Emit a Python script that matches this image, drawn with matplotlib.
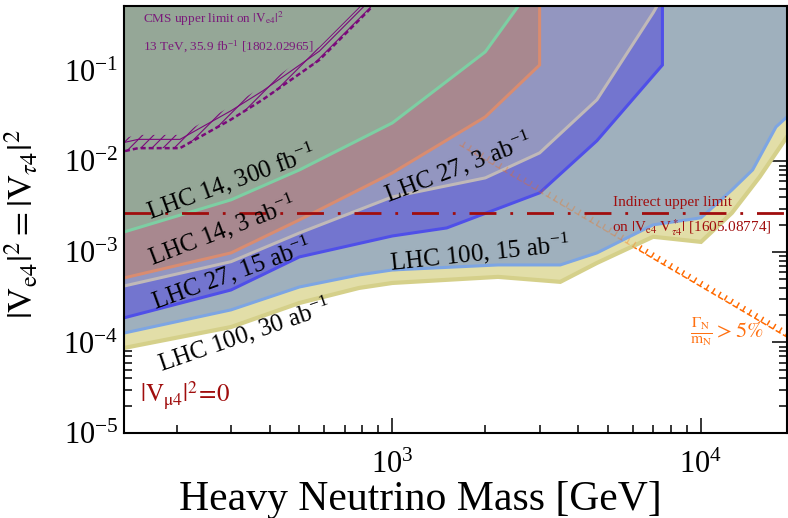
import numpy as np
import matplotlib
matplotlib.use("Agg")
import matplotlib.pyplot as plt
from matplotlib import patheffects
from matplotlib.ticker import LogLocator, NullFormatter

plt.rcParams['font.family'] = 'serif'
plt.rcParams['font.serif'] = ['Liberation Serif', 'DejaVu Serif']
plt.rcParams['mathtext.fontset'] = 'stix'

# --- sensitivity curves (mass in GeV, |V|^2) ---
lhc14_300_m = [135, 300, 500, 1000, 2000, 3000]
lhc14_300_v = [1.66e-3, 3.76e-3, 8.05e-3, 2.66e-2, 0.162, 1.1]

lhc14_3_m = [135, 300, 500, 1000, 2000, 3000, 3000]
lhc14_3_v = [5.16e-4, 9.75e-4, 2.26e-3, 7.46e-3, 3.1e-2, 0.116, 2.0]

lhc27_3_m = [135, 300, 500, 1000, 2000, 3000, 4600, 7000, 7500]
lhc27_3_v = [4.2e-4, 7.8e-4, 1.62e-3, 4.05e-3, 6.57e-3, 1.24e-2, 4.79e-2, 0.438, 0.66]

lhc27_15_m = [135, 300, 500, 1000, 1500, 3000, 4600, 7500, 7500]
lhc27_15_v = [1.87e-4, 3.8e-4, 8.81e-4, 1.5e-3, 1.84e-3, 4.49e-3, 1.69e-2, 0.116, 2.0]

lhc100_15_m = [135, 300, 500, 780, 1000, 2200, 3500, 4600, 7000, 10000, 12600, 14700, 17500, 19000, 21000]
lhc100_15_v = [1.27e-4, 2.29e-4, 4.1e-4, 5.57e-4, 6.32e-4, 7.18e-4, 7.18e-4, 9.75e-4, 1.99e-3,
               2.38e-3, 4.84e-3, 8.05e-3, 2.4e-2, 3.1e-2, 4.5e-2]

lhc100_30_m = [135, 300, 500, 780, 1000, 2200, 3500, 4600, 7000, 10000, 12600, 15500, 19000, 21000]
lhc100_30_v = [8.69e-5, 1.48e-4, 2.73e-4, 4.0e-4, 4.54e-4, 5.3e-4, 4.67e-4, 7.55e-4, 1.47e-3,
               1.29e-3, 2.7e-3, 6.75e-3, 1.87e-2, 2.8e-2]

# CMS 13 TeV limit
cms_m = [136, 150, 205, 300, 380, 580, 830, 950]
cms_v = [1.3e-2, 1.4e-2, 1.4e-2, 2.9e-2, 4.8e-2, 0.132, 0.45, 0.75]

# indirect limit and width constraint
indirect_v = 2.7e-3
gamma_m = [1650, 21000]
gamma_v = [1.52e-2, 9.4e-5]

# (curve, fill colour, line colour, line width) from widest band to narrowest
bands = [
    (lhc100_30_m, lhc100_30_v, '#e2dea8', '#d5d08a', 3.0),
    (lhc100_15_m, lhc100_15_v, '#9fb0bd', '#7da5e3', 2.2),
    (lhc27_15_m, lhc27_15_v, '#7375cf', '#4f4fe8', 2.2),
    (lhc27_3_m, lhc27_3_v, '#9396c0', '#c0b9b8', 2.2),
    (lhc14_3_m, lhc14_3_v, '#a8888f', '#d98c70', 2.2),
    (lhc14_300_m, lhc14_300_v, '#95a797', '#7dcfa3', 2.2),
]

fig = plt.figure(figsize=(7.88, 5.18), dpi=100)
ax = fig.add_axes([124/788, 85/518, 663/788, 427/518])

xmin, xmax = 135, 19000
ymin, ymax = 1e-5, 0.52
top = 10.0

# orange width line drawn below the fills
ticked = [patheffects.withTickedStroke(angle=90, spacing=5, length=1.1)]
ax.plot(gamma_m, gamma_v, color='#ff6a00', lw=1.0, ls=(0, (4, 2)),
        path_effects=ticked, zorder=1)

z = 2
for m, v, fc, lc, lw in bands:
    px = list(m) + [m[-1], m[0]]
    py = list(v) + [top, top]
    ax.fill(px, py, color=fc, lw=0, zorder=z)
    ax.plot(m, v, color=lc, lw=lw, zorder=z + 0.5, solid_joinstyle='miter')
    z += 1

# faded copy of the width line over the shaded regions
ax.plot(gamma_m, gamma_v, color='#ff6a00', lw=1.0, ls=(0, (4, 2)),
        path_effects=ticked, alpha=0.3, zorder=20)

# indirect limit
ax.axhline(indirect_v, color='#a00d0d', lw=2.0, dashes=[9.7, 5, 1, 5], zorder=21)

# CMS limit with hatching
cms_v = np.array(cms_v)
plt.rcParams['hatch.linewidth'] = 0.8
ax.fill_between(cms_m, cms_v, cms_v * 1.4, facecolor='none', edgecolor='#7a0a7a',
                hatch='///', lw=0, zorder=22)
ax.plot(cms_m, cms_v * 1.25, color='#7a0a7a', lw=0.8, zorder=23)
ax.plot(cms_m, cms_v, color='#7a0a7a', lw=1.8, ls=(0, (2, 1.2)), zorder=23)

ax.set_xscale('log')
ax.set_yscale('log')
ax.set_xlim(xmin, xmax)
ax.set_ylim(ymin, ymax)

ax.xaxis.set_minor_formatter(NullFormatter())
ax.yaxis.set_major_locator(LogLocator(base=10, numticks=10))
ax.yaxis.set_minor_locator(LogLocator(base=10, subs=np.arange(2, 10), numticks=10))
ax.yaxis.set_minor_formatter(NullFormatter())

ax.tick_params(which='both', direction='in', top=True, right=True, width=1.1)
ax.tick_params(which='major', length=11)
ax.tick_params(which='minor', length=6)
ax.tick_params(axis='x', which='major', labelsize=22, pad=13)
ax.tick_params(axis='y', which='major', labelsize=22, pad=4)
for s in ax.spines.values():
    s.set_linewidth(1.5)
    s.set_zorder(30)

ax.set_xlabel('Heavy Neutrino Mass [GeV]', fontsize=30)
ax.xaxis.set_label_coords(0.447, -0.112)
ax.set_ylabel(r'$|\mathrm{V}_{\mathrm{e}4}|^2 = |\mathrm{V}_{\tau4}|^2$', fontsize=25)
ax.yaxis.set_label_coords(-0.125, 0.49)

lab = dict(transform=ax.transAxes, fontsize=18, ha='center', va='center',
           rotation_mode='anchor', zorder=25)
ax.text(0.162, 0.588, r'LHC 14, 300 fb$^{\mathregular{-1}}$', rotation=20, **lab)
ax.text(0.147, 0.475, r'LHC 14, 3 ab$^{\mathregular{-1}}$', rotation=21, **lab)
ax.text(0.504, 0.623, r'LHC 27, 3 ab$^{\mathregular{-1}}$', rotation=21, **lab)
ax.text(0.162, 0.375, r'LHC 27, 15 ab$^{\mathregular{-1}}$', rotation=20, **lab)
ax.text(0.537, 0.422, r'LHC 100, 15 ab$^{\mathregular{-1}}$', rotation=6, **lab)
ax.text(0.181, 0.230, r'LHC 100, 30 ab$^{\mathregular{-1}}$', rotation=19, **lab)

ax.text(0.029, 0.970, r'CMS upper limit on $|\mathrm{V}_{\mathrm{e}4}|^2$', color='#7a1a7a',
        fontsize=9.5, transform=ax.transAxes, ha='left', va='center', zorder=25)
ax.text(0.029, 0.906, r'13 TeV, 35.9 fb$^{\mathregular{-1}}$ [1802.02965]', color='#7a1a7a',
        fontsize=9.5, transform=ax.transAxes, ha='left', va='center', zorder=25)

ax.text(0.828, 0.539, 'Indirect upper limit', color='#a00d0d', fontsize=11,
        transform=ax.transAxes, ha='center', va='center', zorder=25)
ax.text(0.857, 0.480, r'on $|\mathrm{V}_{\mathrm{e}4}\ \mathrm{V}^*_{\tau4}|$ [1605.08774]',
        color='#a00d0d', fontsize=11, transform=ax.transAxes, ha='center', va='center', zorder=25)

ax.text(0.854, 0.237, r'$\frac{\Gamma_{\mathrm{N}}}{\mathrm{m}_{\mathrm{N}}} > 5\%$',
        color='#ff7010', fontsize=16, transform=ax.transAxes, ha='left', va='center', zorder=25)

ax.text(0.024, 0.089, r'$|\mathrm{V}_{\mathrm{\mu}4}|^2\!=\!0$', color='#a00d0d', fontsize=18,
        transform=ax.transAxes, ha='left', va='center', zorder=25)

fig.savefig('out.png', dpi=100)
